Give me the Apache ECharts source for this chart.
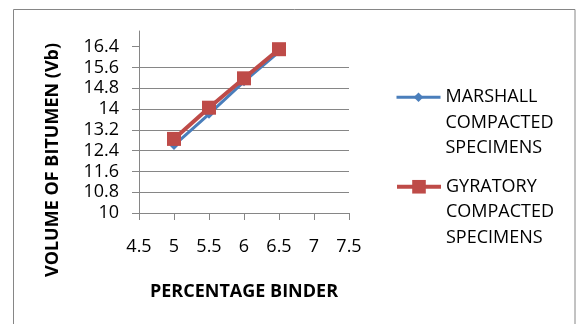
<!DOCTYPE html>
<html>
<head>
<meta charset="utf-8">
<script src="https://cdn.jsdelivr.net/npm/echarts@6/dist/echarts.min.js"></script>
<style>
  html, body { margin: 0; padding: 0; background: #fff; }
  #chart { width: 581px; height: 324px; }
</style>
</head>
<body>
<div id="chart"></div>
<script>
// Percentage binder on the x axis
const binder = [5, 5.5, 6, 6.5];
// Volume of bitumen (Vb) per compaction method
const marshall = [12.6, 13.8, 15.05, 16.2];
const gyratory = [12.85, 14.05, 15.18, 16.3];
// Labelled ticks on the y axis
const yTicks = [10, 10.8, 11.6, 12.4, 13.2, 14, 14.8, 15.6, 16.4];
const seriesNames = ['MARSHALL\nCOMPACTED\nSPECIMENS', 'GYRATORY\nCOMPACTED\nSPECIMENS'];

const FONT = '"Open Sans", sans-serif';
const GRAY = '#868686';
const BLUE = '#4A7EBB';
const RED = '#BE4B48';

const chart = echarts.init(document.getElementById('chart'));

function legendFor(name, top, itemHeight, lineWidth) {
  return {
    data: [name],
    left: 395,
    top: top,
    padding: 0,
    orient: 'vertical',
    itemWidth: 44,
    itemHeight: itemHeight,
    selectedMode: false,
    lineStyle: { width: lineWidth },
    // two blank lines above keep the first text line level with the icon
    formatter: n => '\n\n' + n,
    textStyle: { fontFamily: FONT, fontSize: 18, color: '#000', lineHeight: 25.5 }
  };
}

chart.setOption({
  animation: false,
  backgroundColor: '#fff',
  grid: { left: 139, top: 31, right: 232, bottom: 111 },
  legend: [
    legendFor(seriesNames[0], 33.5, 12, 3),
    legendFor(seriesNames[1], 123, 17, 4)
  ],
  xAxis: {
    type: 'value',
    min: 4.5,
    max: 7.5,
    interval: 0.5,
    name: 'PERCENTAGE BINDER',
    nameLocation: 'middle',
    nameGap: 70,
    nameTextStyle: { fontFamily: FONT, fontSize: 18, fontWeight: 'bold', color: '#000' },
    axisLine: { show: true, lineStyle: { color: GRAY, width: 1 } },
    axisTick: { show: true, length: 7, lineStyle: { color: GRAY } },
    axisLabel: { margin: 25, fontFamily: FONT, fontSize: 18, color: '#000' },
    splitLine: { show: false }
  },
  yAxis: {
    type: 'value',
    min: 10,
    max: 17,
    interval: 0.8,
    axisLine: { show: true, lineStyle: { color: GRAY, width: 1 } },
    axisTick: { show: true, length: 7, customValues: yTicks, lineStyle: { color: GRAY } },
    axisLabel: { margin: 20, customValues: yTicks, fontFamily: FONT, fontSize: 18, color: '#000' },
    splitLine: { show: true, showMaxLine: false, lineStyle: { color: GRAY, width: 1 } }
  },
  graphic: [
    {
      type: 'rect',
      shape: { x: 13.5, y: 9.5, width: 561.5, height: 340 },
      style: { fill: 'none', stroke: GRAY, lineWidth: 1 },
      silent: true
    },
    {
      type: 'text',
      x: 53,
      y: 160,
      rotation: Math.PI / 2,
      style: {
        text: 'VOLUME OF BITUMEN (Vb)',
        fontFamily: FONT,
        fontSize: 18,
        fontWeight: 'bold',
        fill: '#000',
        align: 'center',
        verticalAlign: 'middle'
      },
      silent: true
    }
  ],
  series: [
    {
      name: seriesNames[0],
      type: 'line',
      data: binder.map((b, i) => [b, marshall[i]]),
      symbol: 'diamond',
      symbolSize: 9,
      lineStyle: { color: BLUE, width: 3 },
      itemStyle: { color: BLUE },
      z: 2
    },
    {
      name: seriesNames[1],
      type: 'line',
      data: binder.map((b, i) => [b, gyratory[i]]),
      symbol: 'rect',
      symbolSize: 14,
      lineStyle: { color: RED, width: 4 },
      itemStyle: { color: RED },
      z: 3
    }
  ]
});
</script>
</body>
</html>
